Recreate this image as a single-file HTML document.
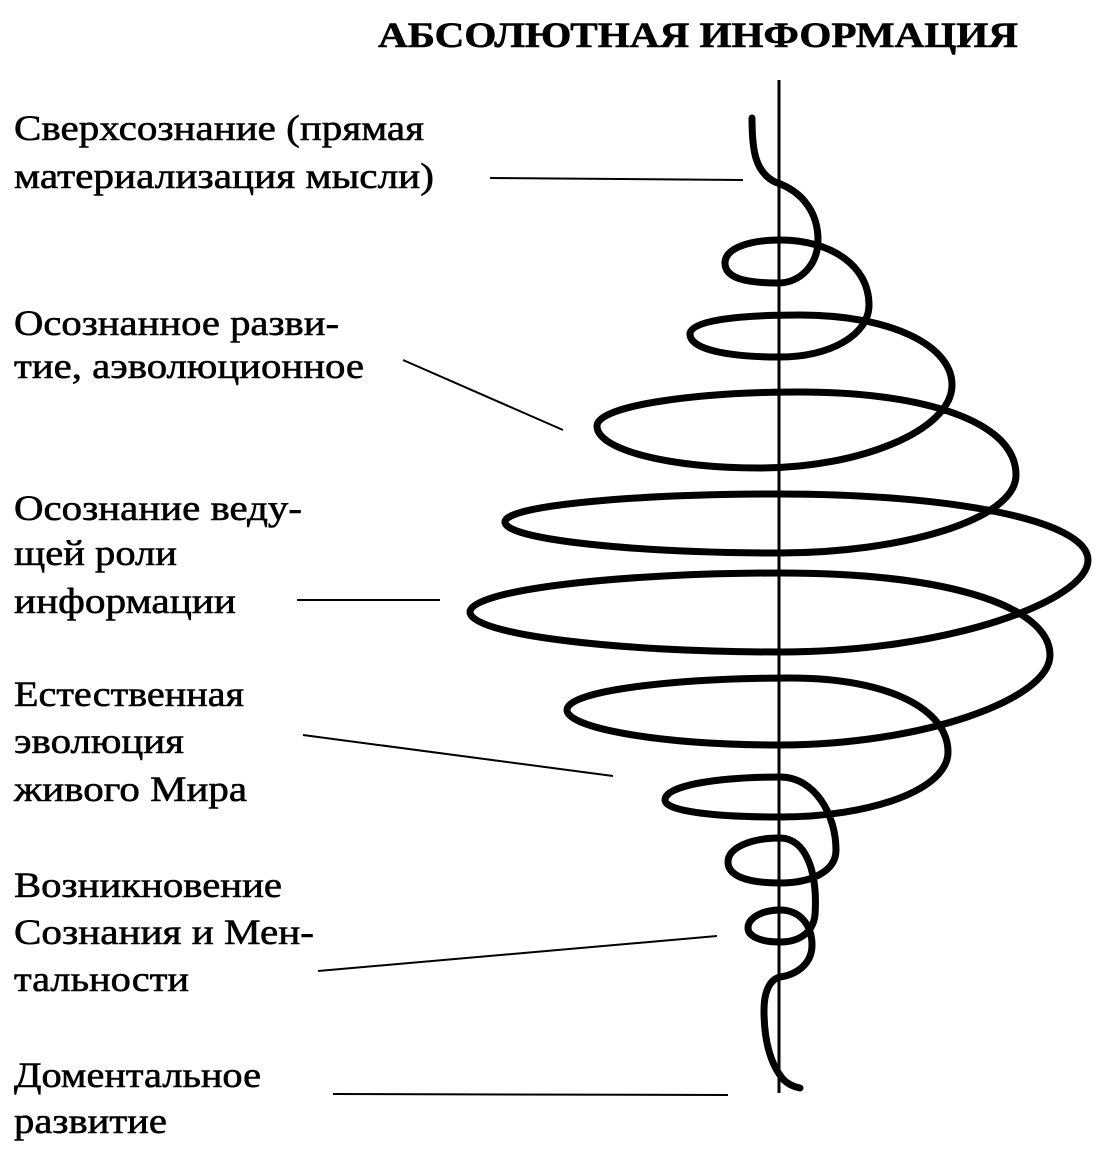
<!DOCTYPE html>
<html><head><meta charset="utf-8"><style>
html,body{margin:0;padding:0;background:#fff;}
svg{display:block;}
text{font-family:"Liberation Serif","Noto Serif CJK SC",serif;font-size:36px;fill:#000;stroke:#000;stroke-width:0.6;}
</style></head><body>
<svg width="1099" height="1149" viewBox="0 0 1099 1149" xmlns="http://www.w3.org/2000/svg">
<text x="378" y="47" font-weight="bold" textLength="640" lengthAdjust="spacingAndGlyphs">АБСОЛЮТНАЯ ИНФОРМАЦИЯ</text>
<g>
<text x="14" y="140" textLength="410" lengthAdjust="spacingAndGlyphs">Сверхсознание (прямая</text>
<text x="14" y="188" textLength="420" lengthAdjust="spacingAndGlyphs">материализация мысли)</text>
<text x="14" y="335" textLength="325" lengthAdjust="spacingAndGlyphs">Осознанное разви-</text>
<text x="14" y="378" textLength="350" lengthAdjust="spacingAndGlyphs">тие, аэволюционное</text>
<text x="14" y="520" textLength="288" lengthAdjust="spacingAndGlyphs">Осознание веду-</text>
<text x="14" y="565" textLength="163" lengthAdjust="spacingAndGlyphs">щей роли</text>
<text x="14" y="613" textLength="222" lengthAdjust="spacingAndGlyphs">информации</text>
<text x="14" y="706" textLength="230" lengthAdjust="spacingAndGlyphs">Естественная</text>
<text x="14" y="753" textLength="170" lengthAdjust="spacingAndGlyphs">эволюция</text>
<text x="14" y="801" textLength="233" lengthAdjust="spacingAndGlyphs">живого Мира</text>
<text x="14" y="897" textLength="268" lengthAdjust="spacingAndGlyphs">Возникновение</text>
<text x="14" y="944" textLength="300" lengthAdjust="spacingAndGlyphs">Сознания и Мен-</text>
<text x="14" y="991" textLength="175" lengthAdjust="spacingAndGlyphs">тальности</text>
<text x="14" y="1087" textLength="247" lengthAdjust="spacingAndGlyphs">Доментальное</text>
<text x="14" y="1133" textLength="153" lengthAdjust="spacingAndGlyphs">развитие</text>
</g>
<g stroke="#000" stroke-width="2" fill="none">
<line x1="490" y1="178" x2="743" y2="180"/>
<line x1="403" y1="360" x2="563" y2="430"/>
<line x1="297" y1="600" x2="440" y2="600"/>
<line x1="303" y1="735" x2="613" y2="776"/>
<line x1="318" y1="971" x2="717" y2="936"/>
<line x1="333" y1="1094" x2="728" y2="1095"/>
</g>
<line x1="779" y1="80" x2="779" y2="1093" stroke="#000" stroke-width="3"/>
<path fill="none" stroke="#000" stroke-width="7" stroke-linecap="round" d="
M752,118 C752,150 755,172 775,182
C805,192 818,215 818,240
C818,265 800,283 778,283
C745,283 725,278 725,263
C725,248 750,240 780,240
C830,240 869,265 869,305
C869,335 830,357 780,357
C730,357 690,350 690,334
C690,320 740,315 800,315
C890,315 952,345 952,385
C952,430 860,468 760,468
C670,468 597,450 597,426
C597,405 700,392 800,392
C920,392 1016,420 1016,475
C1016,520 900,553 780,553
C640,553 505,540 505,522
C505,505 640,494 780,494
C950,494 1088,520 1088,560
C1088,600 950,652 780,652
C620,652 470,635 470,612
C470,590 620,573 780,573
C960,573 1050,610 1050,655
C1050,700 920,745 780,745
C660,745 567,728 567,710
C567,690 680,678 790,678
C890,678 948,710 948,752
C948,790 870,817 780,817
C720,817 665,812 665,800
C665,785 720,777 780,777
C815,777 836,815 836,850
C836,872 810,883 780,883
C745,883 728,875 728,862
C728,848 750,838 780,838
C805,838 818,870 815,915
C813,932 800,942 780,942
C760,942 748,936 748,928
C748,918 762,910 780,910
C800,910 812,925 812,945
C812,965 795,975 780,977
C768,980 764,995 764,1010
C764,1035 768,1060 782,1078
C788,1085 795,1087 800,1088"/>
</svg>
</body></html>
